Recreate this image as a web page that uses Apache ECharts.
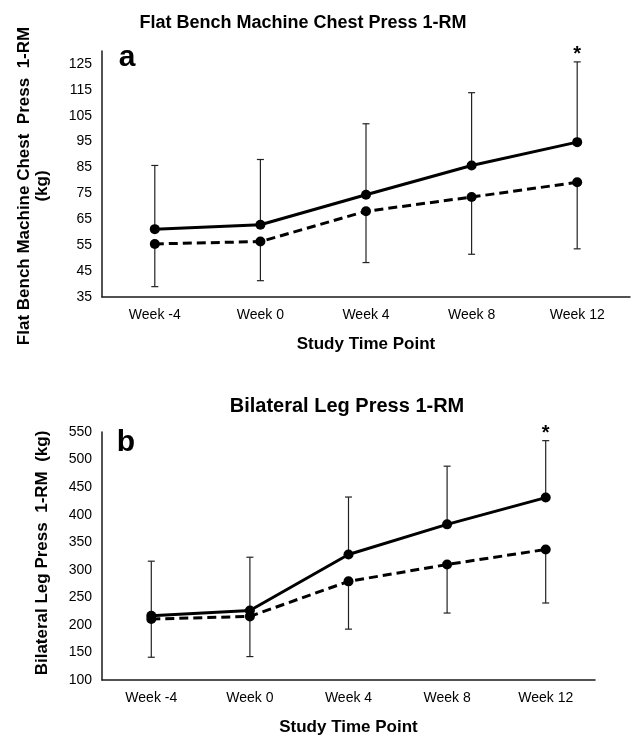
<!DOCTYPE html>
<html>
<head>
<meta charset="utf-8">
<script src="https://cdn.jsdelivr.net/npm/echarts@6/dist/echarts.min.js"></script>
<style>
html,body{margin:0;padding:0;background:#fff;}
#chart{width:633px;height:739px;}
</style>
</head>
<body>
<div id="chart"></div>
<script>
var weeks = ['Week -4', 'Week 0', 'Week 4', 'Week 8', 'Week 12'];
var chestSolid = [61.2, 62.9, 74.5, 85.8, 94.8];
var chestDashed = [55.5, 56.4, 68.1, 73.6, 79.3];
var chestUpper = [85.8, 88.1, 101.9, 113.9, 125.8];
var chestLower = [39.0, 41.3, 48.3, 51.5, 53.6];
var legSolid = [216.6, 226.0, 327.8, 382.4, 431.0];
var legDashed = [210.6, 215.4, 279.0, 309.5, 336.9];
var legUpper = [315.6, 322.8, 432.0, 488.0, 534.3];
var legLower = [141.3, 142.5, 192.3, 221.5, 239.7];
var sigFlags = [0, 0, 0, 0, 1];
var chestTicks = [35, 45, 55, 65, 75, 85, 95, 105, 115, 125];

var FONT = 'Liberation Sans, Arial, sans-serif';

function errData(solid, upper, dashed, lower) {
  return weeks.map(function (w, i) { return [i, solid[i], upper[i], dashed[i], lower[i], sigFlags[i]]; });
}
function renderErr(params, api) {
  var i = api.value(0);
  var ps = api.coord([i, api.value(1)]);
  var pu = api.coord([i, api.value(2)]);
  var pd = api.coord([i, api.value(3)]);
  var pl = api.coord([i, api.value(4)]);
  var st = { stroke: '#222', lineWidth: 1.2 };
  var hw = 3.5;
  var ch = [
    { type: 'line', shape: { x1: ps[0], y1: ps[1], x2: pu[0], y2: pu[1] }, style: st },
    { type: 'line', shape: { x1: pu[0] - hw, y1: pu[1], x2: pu[0] + hw, y2: pu[1] }, style: st },
    { type: 'line', shape: { x1: pd[0], y1: pd[1], x2: pl[0], y2: pl[1] }, style: st },
    { type: 'line', shape: { x1: pl[0] - hw, y1: pl[1], x2: pl[0] + hw, y2: pl[1] }, style: st }
  ];
  if (api.value(5)) {
    ch.push({ type: 'text', style: { text: '*', x: pu[0], y: pu[1] + 3, textAlign: 'center', textVerticalAlign: 'bottom', font: 'bold 20px ' + FONT, fill: '#000' } });
  }
  return { type: 'group', children: ch };
}

var chart = echarts.init(document.getElementById('chart'));
var axisLine = { show: true, lineStyle: { color: '#1a1a1a', width: 1.5 } };
var xCommon = {
  type: 'category', data: weeks, boundaryGap: true,
  axisLine: axisLine, axisTick: { show: false },
  axisLabel: { color: '#000', fontSize: 14, fontFamily: FONT, margin: 11 },
  name: 'Study Time Point', nameLocation: 'middle', nameGap: 39,
  nameTextStyle: { color: '#000', fontSize: 17, fontWeight: 'bold', fontFamily: FONT }
};
function lineSeries(data, dashed, xi) {
  return {
    type: 'line', data: data, xAxisIndex: xi, yAxisIndex: xi,
    symbol: 'circle', symbolSize: 10, z: 5,
    lineStyle: { color: '#000', width: 3, type: dashed ? [9, 5] : 'solid' },
    itemStyle: { color: '#000' }
  };
}
chart.setOption({
  animation: false,
  backgroundColor: '#fff',
  title: [
    { text: 'Flat Bench Machine Chest Press 1-RM', left: 298, top: 9, textAlign: 'center',
      textStyle: { fontSize: 18, fontWeight: 'bold', color: '#000', fontFamily: FONT } },
    { text: 'Bilateral Leg Press 1-RM', left: 342, top: 391, textAlign: 'center',
      textStyle: { fontSize: 20, fontWeight: 'bold', color: '#000', fontFamily: FONT } }
  ],
  grid: [
    { left: 102, top: 51, width: 528, height: 246 },
    { left: 102, top: 432, width: 493, height: 248 }
  ],
  xAxis: [
    Object.assign({ gridIndex: 0 }, xCommon),
    Object.assign({ gridIndex: 1 }, xCommon)
  ],
  yAxis: [
    { gridIndex: 0, type: 'value', min: 35, max: 130, interval: 5,
      axisLine: axisLine, axisTick: { show: false }, splitLine: { show: false },
      axisLabel: { color: '#000', fontSize: 14, fontFamily: FONT, margin: 10,
        formatter: function (v) { return chestTicks.indexOf(Math.round(v)) >= 0 ? String(Math.round(v)) : ''; } } },
    { gridIndex: 1, type: 'value', min: 100, max: 550, interval: 50,
      axisLine: axisLine, axisTick: { show: false }, splitLine: { show: false },
      axisLabel: { color: '#000', fontSize: 14, fontFamily: FONT, margin: 10 } }
  ],
  graphic: [
    { type: 'text', x: 33, y: 186, rotation: Math.PI / 2,
      style: { text: 'Flat Bench Machine Chest  Press  1-RM\n(kg)', textAlign: 'center', textVerticalAlign: 'middle',
        font: 'bold 17px ' + FONT, lineHeight: 18, fill: '#000' } },
    { type: 'text', x: 42, y: 553, rotation: Math.PI / 2,
      style: { text: 'Bilateral Leg Press  1-RM  (kg)', textAlign: 'center', textVerticalAlign: 'middle',
        font: 'bold 17px ' + FONT, fill: '#000' } },
    { type: 'text', x: 127, y: 58, style: { text: 'a', textAlign: 'center', textVerticalAlign: 'middle', font: 'bold 30px ' + FONT, fill: '#000' } },
    { type: 'text', x: 126, y: 443, style: { text: 'b', textAlign: 'center', textVerticalAlign: 'middle', font: 'bold 30px ' + FONT, fill: '#000' } }
  ],
  series: [
    { type: 'custom', xAxisIndex: 0, yAxisIndex: 0, z: 2, renderItem: renderErr,
      data: errData(chestSolid, chestUpper, chestDashed, chestLower), encode: { x: 0, y: [1, 2, 3, 4] } },
    lineSeries(chestDashed, true, 0),
    lineSeries(chestSolid, false, 0),
    { type: 'custom', xAxisIndex: 1, yAxisIndex: 1, z: 2, renderItem: renderErr,
      data: errData(legSolid, legUpper, legDashed, legLower), encode: { x: 0, y: [1, 2, 3, 4] } },
    lineSeries(legDashed, true, 1),
    lineSeries(legSolid, false, 1)
  ]
});
</script>
</body>
</html>
